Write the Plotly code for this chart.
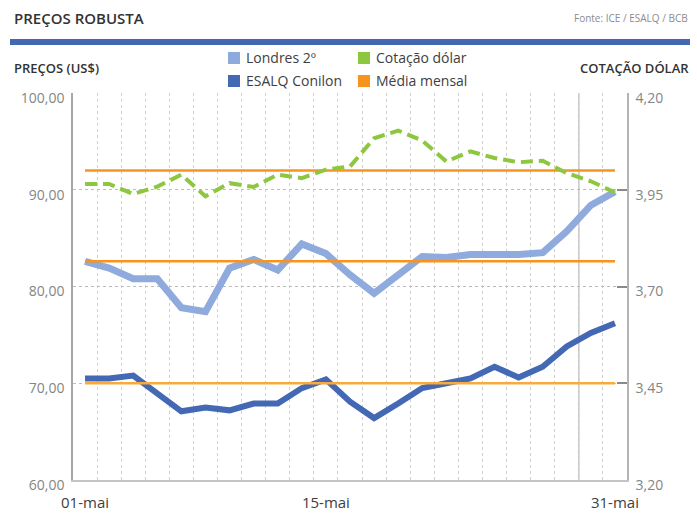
import plotly.graph_objects as go

# ---- data ----
dates = ["01-mai", "02-mai", "03-mai", "06-mai", "07-mai", "08-mai", "09-mai", "10-mai",
         "13-mai", "14-mai", "15-mai", "16-mai", "17-mai", "20-mai", "21-mai", "22-mai",
         "23-mai", "24-mai", "27-mai", "28-mai", "29-mai", "30-mai", "31-mai"]
shown_labels = ["01-mai", "15-mai", "31-mai"]
londres = [82.6, 81.9, 80.8, 80.8, 77.8, 77.4, 81.9, 82.8, 81.7, 84.4, 83.4, 81.2,
           79.3, 81.2, 83.1, 83.0, 83.3, 83.3, 83.3, 83.5, 85.7, 88.4, 89.8]
esalq = [70.5, 70.5, 70.8, 69.0, 67.1, 67.5, 67.2, 67.9, 67.9, 69.5, 70.4, 68.1,
         66.4, 67.9, 69.5, 70.0, 70.5, 71.7, 70.6, 71.7, 73.8, 75.2, 76.2]
dolar = [3.965, 3.965, 3.939, 3.958, 3.989, 3.933, 3.967, 3.957, 3.989, 3.980, 4.002, 4.010,
         4.083, 4.103, 4.077, 4.023, 4.049, 4.032, 4.021, 4.025, 3.993, 3.972, 3.943]
media_londres = 82.6
media_esalq = 70.0
media_dolar = 4.00
left_ticks = [60, 70, 80, 90, 100]
right_ticks = [3.20, 3.45, 3.70, 3.95, 4.20]

# ---- geometry helpers (pixel -> paper) ----
W, H = 697, 514
ML, MR, MT, MB = 73, 70, 93, 34
PW, PH = W - ML - MR, H - MT - MB


def px(x):
    return (x - ML) / PW


def py(y):
    return (H - MB - y) / PH


FONT = "Open Sans"
C_LON = "#8faadc"
C_ESA = "#4368b4"
C_DOL = "#8dc63f"
C_MED = "#f7941d"
C_MED2 = "#f9aa3c"

fig = go.Figure()
fig.add_trace(go.Scatter(x=dates, y=londres, mode="lines", name="Londres 2º",
                         line=dict(color=C_LON, width=7), showlegend=False))
fig.add_trace(go.Scatter(x=dates, y=esalq, mode="lines", name="ESALQ Conilon",
                         line=dict(color=C_ESA, width=6), showlegend=False))
fig.add_trace(go.Scatter(x=dates, y=[media_londres] * len(dates), mode="lines", name="Média mensal",
                         line=dict(color=C_MED, width=2.5), showlegend=False))
fig.add_trace(go.Scatter(x=dates, y=[media_esalq] * len(dates), mode="lines", name="Média mensal",
                         line=dict(color=C_MED2, width=2.5), showlegend=False))
fig.add_trace(go.Scatter(x=dates, y=[media_dolar] * len(dates), mode="lines", name="Média mensal",
                         line=dict(color=C_MED, width=2.5), yaxis="y2", showlegend=False))
fig.add_trace(go.Scatter(x=dates, y=dolar, mode="lines", name="Cotação dólar",
                         line=dict(color=C_DOL, width=4, dash="12px,6px"), yaxis="y2",
                         showlegend=False))

ticktext = [d if d in shown_labels else "" for d in dates]

fig.update_layout(
    width=W, height=H,
    margin=dict(l=ML, r=MR, t=MT, b=MB, pad=0),
    paper_bgcolor="white", plot_bgcolor="white",
    separators=",.",
    font=dict(family=FONT, color="#404040"),
    xaxis=dict(type="category", range=[-0.5, len(dates) - 0.5],
               tickvals=dates, ticktext=ticktext, tickson="boundaries", tickangle=0,
               ticklabelstandoff=8,
               showgrid=True, gridcolor="#cfcfcf", griddash="dot", gridwidth=1,
               ticks="", showline=True, linecolor="#c4c4c4", linewidth=1.5,
               tickfont=dict(size=15, color="#404040"), zeroline=False, automargin=False),
    yaxis=dict(range=[60, 100], tickvals=left_ticks, tickformat=".2f",
               ticklabelshift=5, ticklabelstandoff=4,
               showgrid=True, gridcolor="#bdbdbd", griddash="dot", gridwidth=1,
               showline=True, linecolor="#a6a6a6", linewidth=1.5, ticks="",
               tickfont=dict(size=14, color="#858585"), zeroline=False, automargin=False),
    yaxis2=dict(range=[3.20, 4.20], tickvals=right_ticks, tickformat=".2f",
                ticklabelshift=5, ticklabelstandoff=4,
                overlaying="y", side="right", showgrid=False,
                showline=True, linecolor="#b4b4b4", linewidth=1.5,
                ticks="inside", ticklen=10, tickcolor="#8a8a8a", tickwidth=1.5,
                tickfont=dict(size=14, color="#858585"), zeroline=False, automargin=False),
)

# solid vertical marker line
fig.add_shape(type="line", xref="x", yref="paper", x0=20.5, x1=20.5, y0=0, y1=1,
              line=dict(color="#c3c3c3", width=1.5), layer="below")

# blue header bar
fig.add_shape(type="rect", xref="paper", yref="paper", x0=px(10), x1=px(690),
              y0=py(45), y1=py(39), fillcolor="#4467b1", line=dict(width=0))

annots = [
    dict(text="PREÇOS ROBUSTA", x=px(12), y=py(18), xanchor="left", yanchor="middle",
         font=dict(size=15, color="#333333", weight=600)),
    dict(text="Fonte: ICE / ESALQ / BCB", x=px(690), y=py(18), xanchor="right", yanchor="middle",
         font=dict(size=10, color="#8c8c8c")),
    dict(text="PREÇOS (US$)", x=px(12), y=py(68), xanchor="left", yanchor="middle",
         font=dict(size=13, color="#333333", weight=600)),
    dict(text="COTAÇÃO DÓLAR", x=px(691), y=py(68), xanchor="right", yanchor="middle",
         font=dict(size=13, color="#333333", weight=600)),
]

legend_items = [
    ("Londres 2º", C_LON, 228, 58),
    ("Cotação dólar", C_DOL, 358, 58),
    ("ESALQ Conilon", C_ESA, 228, 81),
    ("Média mensal", C_MED, 358, 81),
]
for name, color, lx, ly in legend_items:
    fig.add_shape(type="rect", xref="paper", yref="paper", x0=px(lx), x1=px(lx + 12),
                  y0=py(ly + 6), y1=py(ly - 6), fillcolor=color, line=dict(width=0))
    annots.append(dict(text=name, x=px(lx + 16), y=py(ly), xanchor="left", yanchor="middle",
                       font=dict(size=14, color="#404040")))

for a in annots:
    a.update(xref="paper", yref="paper", showarrow=False)
    fig.add_annotation(**a)

fig.write_html("out.html", config={"displayModeBar": False},
               post_script="document.body.style.margin='0';")
